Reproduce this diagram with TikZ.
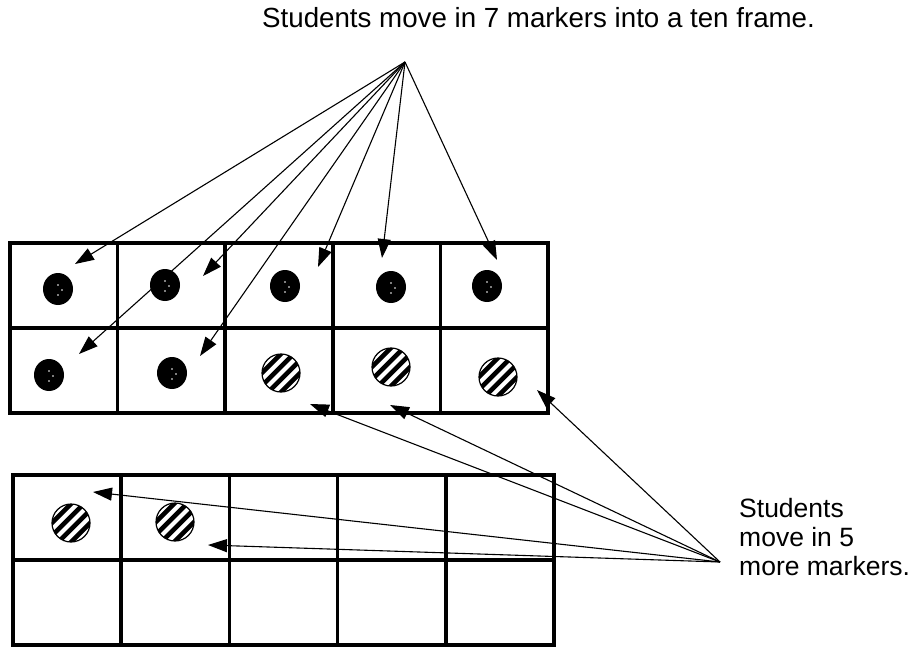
\documentclass[tikz,border=0pt]{standalone}
\usepackage{fontspec}
\setmainfont{Liberation Sans}
\usetikzlibrary{arrows.meta}
\begin{document}
\begin{tikzpicture}[x=1pt,y=-1pt,
  cellbox/.style={draw, line width=3.5pt, minimum width=107.6pt, minimum height=85pt,
    inner sep=0pt, outer sep=0pt, anchor=north west},
  lowcell/.style={cellbox, minimum width=108.2pt},
  pointer/.style={line width=1.1pt, -{Triangle[length=19pt,width=13pt]}},
  counter/.pic={
    \fill (0,0) ellipse [x radius=15pt, y radius=16pt];
    \fill[white] (0,-4) circle[radius=0.8pt] (4,1) circle[radius=0.8pt] (0,6) circle[radius=0.8pt];
  },
  hatched/.pic={
    \begin{scope}
      \clip (0,0) circle[radius=19pt];
      \foreach \o in {-13.5,-4.5,4.5,13.5}
        \draw[line width=4.5pt] ({0.707*(\o-30)},{0.707*(\o+30)}) -- ({0.707*(\o+30)},{0.707*(\o-30)});
    \end{scope}
    \draw[line width=1.2pt] (0,0) circle[radius=19pt];
  }]
\useasboundingbox (0,0) rectangle (915,647);
\fill[white] (0,0) rectangle (915,647);

% top ten frame
\foreach \c in {1,...,5}
  \foreach \r in {1,2}
    \node[cellbox] (t\r\c) at ({10+(\c-1)*107.6},{243+(\r-1)*85}) {};
% bottom ten frame
\foreach \c in {1,...,5}
  \foreach \r in {1,2}
    \node[lowcell] (b\r\c) at ({13+(\c-1)*108.2},{475+(\r-1)*85}) {};

% markers
\pic at (58,289) {counter};
\pic at (165,285) {counter};
\pic at (285,286) {counter};
\pic at (391,287) {counter};
\pic at (487,286) {counter};
\pic at (49,375) {counter};
\pic at (172,373) {counter};
\pic at (281,373) {hatched};
\pic at (391,367) {hatched};
\pic at (498,377) {hatched};
\pic at (71,523) {hatched};
\pic at (175,522) {hatched};

% texts
\node[anchor=base west, inner sep=0pt, font=\fontsize{27.7}{30}\selectfont] (title) at (262,28)
  {Students move in 7 markers into a ten frame.};
\node[anchor=north west, align=left, inner sep=0pt, font=\fontsize{26.5}{29}\selectfont] (note) at (739,498)
  {Students\\move in 5\\more markers.};

% sources and targets
\coordinate (srcA) at (405,62);
\coordinate (srcB) at (720,562);
\coordinate (a1) at (75,264);
\coordinate (a2) at (203,276);
\coordinate (a3) at (79,354);
\coordinate (a4) at (200,356);
\coordinate (a5) at (318,267);
\coordinate (a6) at (382,258);
\coordinate (a7) at (497,260);
\coordinate (b1) at (310,404);
\coordinate (b2) at (390,405);
\coordinate (b3) at (537,390);
\coordinate (b4) at (93,492);
\coordinate (b5) at (208,545);

\foreach \t in {a1,a2,a3,a4,a5,a6,a7}
  \draw[pointer] (srcA) -- (\t);
\foreach \t in {b1,b2,b3,b4,b5}
  \draw[pointer] (srcB) -- (\t);
\end{tikzpicture}
\end{document}
